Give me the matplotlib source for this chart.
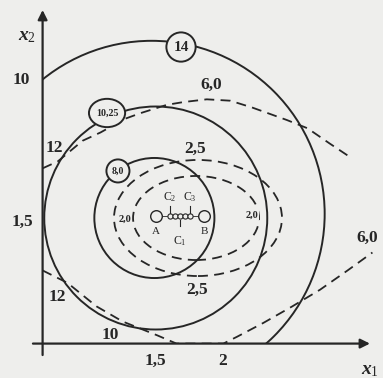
import matplotlib
matplotlib.use('Agg')
import matplotlib.pyplot as plt
from matplotlib.patches import Circle, Ellipse, Rectangle

INK = '#262626'
BG = '#eeeeec'

plt.rcParams['mathtext.fontset'] = 'custom'
plt.rcParams['mathtext.rm'] = 'Liberation Serif'
plt.rcParams['mathtext.it'] = 'Liberation Serif:italic:bold'
plt.rcParams['mathtext.bf'] = 'Liberation Serif:bold'
SERIF = 'Liberation Serif'

# ---- data (x1, x2 plane) ----
origin_x1, origin_x2 = 0.70, 0.59

# solid contours (circles around A)
circle_values = ['8,0', '10,25', '14']
circle_cx = [1.51, 1.52, 1.49]
circle_cy = [1.50, 1.50, 1.53]
circle_r = [0.435, 0.808, 1.254]
circle_lab_x = [1.246, 1.167, 1.703]
circle_lab_y = [1.841, 2.261, 2.739]
circle_lab_w = [0.167, 0.262, 0.212]
circle_lab_h = [0.167, 0.205, 0.212]
circle_lab_fs = [7, 7.2, 11]

# dashed contours (ellipses)
ell_values = ['2,0', '2,5']
ell_cx = [1.812, 1.826]
ell_cy = [1.50, 1.50]
ell_w = [0.913, 1.217]
ell_h = [0.609, 0.841]

# dashed contour 6,0 (read points)
c6_upper_x = [0.70, 0.81, 0.99, 1.12, 1.30, 1.41, 1.60, 1.72, 1.89, 2.06, 2.22, 2.47, 2.62, 2.78, 2.93]
c6_upper_y = [1.86, 1.91, 2.06, 2.12, 2.22, 2.26, 2.32, 2.34, 2.36, 2.35, 2.30, 2.21, 2.15, 2.04, 1.94]
c6_lower_x = [0.70, 0.88, 1.09, 1.28, 1.53, 1.67, 1.84, 2.01, 2.11, 2.30, 2.51, 2.71, 2.91, 3.09]
c6_lower_y = [1.12, 1.03, 0.86, 0.75, 0.65, 0.59, 0.59, 0.59, 0.64, 0.74, 0.86, 0.98, 1.12, 1.25]

# points
big_pts_x = [1.522, 1.870]
big_pts_y = [1.514, 1.514]
big_pts_lab = ['A', 'B']
small_pts_x = [1.623, 1.659, 1.696, 1.732, 1.768]
small_pts_y = [1.514, 1.514, 1.514, 1.514, 1.514]
c_lab = [r'$\mathrm{C}_2$', r'$\mathrm{C}_1$', r'$\mathrm{C}_3$']
c_lab_x = [1.623, 1.696, 1.768]
c_lab_y = [1.652, 1.333, 1.652]
c_tick_dir = [1, -1, 1]

# free labels
labels = ['10', '12', '12', '10', '1,5', '1,5', '2', '6,0', '6,0', '2,5', '2,5', '2,0', '2,0']
labels_x = [0.543, 0.783, 0.804, 1.188, 0.551, 1.514, 2.007, 1.920, 3.051, 1.804, 1.819, 1.297, 2.220]
labels_y = [2.500, 2.007, 0.928, 0.652, 1.471, 0.464, 0.464, 2.464, 1.355, 2.000, 0.978, 1.493, 1.522]
labels_fs = [12.5, 12.5, 12.5, 12.5, 12.5, 12.5, 12.5, 12.5, 12.5, 12.5, 12.5, 7.5, 7.5]

fig = plt.figure(figsize=(3.83, 3.78), dpi=100, facecolor=BG)
ax = fig.add_axes([0, 0, 1, 1])
ax.set_facecolor(BG)
ax.set_xlim(0.3913, 3.1667)
ax.set_ylim(0.3406, 3.0797)
ax.axis('off')

clip = Rectangle((origin_x1, origin_x2), 5, 5, transform=ax.transData)

# axes arrows
ax.annotate('', xy=(origin_x1, 3.007), xytext=(origin_x1, 0.507),
            arrowprops=dict(arrowstyle='-|>', color=INK, lw=1.6, shrinkA=0, shrinkB=0,
                            mutation_scale=14))
ax.annotate('', xy=(3.072, origin_x2), xytext=(0.630, origin_x2),
            arrowprops=dict(arrowstyle='-|>', color=INK, lw=1.6, shrinkA=0, shrinkB=0,
                            mutation_scale=14))

# solid circles
for cx, cy, r in zip(circle_cx, circle_cy, circle_r):
    c = Circle((cx, cy), r, fill=False, ec=INK, lw=1.4, zorder=3)
    ax.add_patch(c)
    c.set_clip_path(clip)

# dashed ellipses
for cx, cy, w, h in zip(ell_cx, ell_cy, ell_w, ell_h):
    e = Ellipse((cx, cy), w, h, fill=False, ec=INK, lw=1.3, ls=(0, (5.5, 3.5)), zorder=3)
    ax.add_patch(e)

# 6,0 contour
for xs, ys in ((c6_upper_x, c6_upper_y), (c6_lower_x, c6_lower_y)):
    ln, = ax.plot(xs, ys, color=INK, lw=1.3, ls=(0, (5.5, 3.5)), zorder=3)
    ln.set_clip_path(clip)

# circle value labels
for t, x, y, w, h, fs in zip(circle_values, circle_lab_x, circle_lab_y, circle_lab_w,
                             circle_lab_h, circle_lab_fs):
    ax.add_patch(Ellipse((x, y), w, h, fc=BG, ec=INK, lw=1.4, zorder=5))
    ax.text(x, y, t, ha='center', va='center', fontsize=fs, fontfamily=SERIF,
            fontweight='bold', color=INK, zorder=6)

# free labels
for t, x, y, fs in zip(labels, labels_x, labels_y, labels_fs):
    bbox = dict(boxstyle='square,pad=0.05', fc=BG, ec='none') if t == '2,0' else None
    ax.text(x, y, t, ha='center', va='center', fontsize=fs, fontfamily=SERIF,
            fontweight='bold', color=INK, zorder=6, bbox=bbox)

# axis names
ax.text(0.587, 2.819, r'$x_2$', ha='center', va='center', fontsize=14, color=INK, zorder=6)
ax.text(3.072, 0.399, r'$x_1$', ha='center', va='center', fontsize=14, color=INK, zorder=6)

# points A, B and C's
ax.plot([big_pts_x[0] + 0.036, big_pts_x[1] - 0.036], [big_pts_y[0], big_pts_y[1]],
        color=INK, lw=0.6, zorder=3)
ax.scatter(big_pts_x, big_pts_y, s=70, facecolors=BG, edgecolors=INK, linewidths=1.0, zorder=4)
ax.scatter(small_pts_x, small_pts_y, s=14, facecolors=BG, edgecolors=INK, linewidths=0.8, zorder=4)
for t, x, y in zip(big_pts_lab, big_pts_x, big_pts_y):
    ax.text(x, y - 0.115, t, ha='center', va='center', fontsize=8, fontfamily=SERIF,
            color=INK, zorder=6)
for t, x, y, d in zip(c_lab, c_lab_x, c_lab_y, c_tick_dir):
    ax.plot([x, x], [1.514 + d * 0.025, 1.514 + d * 0.075], color=INK, lw=0.8, zorder=3)
    ax.text(x, y, t, ha='center', va='center', fontsize=8.5, color=INK, zorder=6)

fig.savefig('out.png', dpi=100, facecolor=BG)
